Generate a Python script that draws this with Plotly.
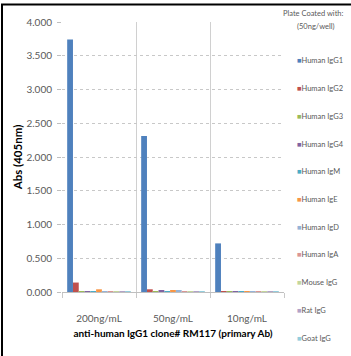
import plotly.graph_objects as go

categories = ["200ng/mL", "50ng/mL", "10ng/mL"]
series_names = ["Human IgG1", "Human IgG2", "Human IgG3", "Human IgG4", "Human IgM",
                "Human IgE", "Human IgD", "Human IgA", "Mouse IgG", "Rat IgG", "Goat IgG"]
series_values = [
    [3.74, 2.31, 0.72],
    [0.14, 0.04, 0.004],
    [0.004, 0.004, 0.003],
    [0.004, 0.015, 0.003],
    [0.004, 0.004, 0.003],
    [0.04, 0.03, 0.004],
    [0.004, 0.025, 0.003],
    [0.004, 0.004, 0.003],
    [0.004, 0.004, 0.003],
    [0.004, 0.004, 0.003],
    [0.004, 0.004, 0.003],
]
colors = ["#4F81BD", "#C0504D", "#9BBB59", "#8064A2", "#4BACC6", "#F79646",
          "#95B3D7", "#DA9694", "#C3D69B", "#B2A2C7", "#93CDDD"]
y_ticks = [0, 0.5, 1, 1.5, 2, 2.5, 3, 3.5, 4]

FONT = "Lato, sans-serif"
W, H = 351, 356
L, R, T, B = 62, 67, 22, 64
PW, PH = W - L - R, H - T - B

fig = go.Figure()
for name, vals, c in zip(series_names, series_values, colors):
    fig.add_trace(go.Bar(x=categories, y=vals, name=name, marker_color=c,
                         marker_line_width=0, showlegend=False))

def px2x(px):
    return (px - L) / PW

def py2y(py):
    return 1 - (py - T) / PH

legend_font = dict(family=FONT, size=7.5, color="#595959")
annotations = [
    dict(text="Plate Coated with:", xref="paper", yref="paper",
         x=px2x(313), y=py2y(14), xanchor="center", yanchor="middle", showarrow=False,
         font=legend_font),
    dict(text="(50ng/well)", xref="paper", yref="paper",
         x=px2x(316), y=py2y(26), xanchor="center", yanchor="middle", showarrow=False,
         font=legend_font),
]
for i, (name, c) in enumerate(zip(series_names, colors)):
    annotations.append(dict(
        text=f'<span style="color:{c}">■</span>{name}', xref="paper", yref="paper",
        x=px2x(295), y=py2y(61 + 27.7 * i), xanchor="left", yanchor="middle",
        showarrow=False, font=legend_font))

fig.update_layout(
    width=W, height=H,
    margin=dict(l=L, r=R, t=T, b=B),
    paper_bgcolor="white", plot_bgcolor="white",
    barmode="group", bargap=0.14, bargroupgap=0,
    font=dict(family=FONT, color="#595959"),
    annotations=annotations,
    shapes=[dict(type="rect", xref="paper", yref="paper",
                 x0=px2x(2), x1=px2x(W + 10), y0=py2y(H + 10), y1=py2y(4.5),
                 line=dict(color="black", width=2), layer="above")],
    xaxis=dict(
        tickson="boundaries", showgrid=True, gridcolor="#D0D0D0", gridwidth=1,
        ticks="outside", ticklen=5, tickcolor="#C8C8C8",
        showline=True, linecolor="#BFBFBF", linewidth=1,
        ticklabelstandoff=17,
        tickfont=dict(family=FONT, size=10, color="#595959"),
        title=dict(text="<b>anti-human IgG1 clone# RM117 (primary Ab)</b>",
                   font=dict(family=FONT, size=10, color="black"), standoff=6),
    ),
    yaxis=dict(
        range=[0, 4], tickvals=y_ticks, tickformat=".3f",
        showgrid=True, gridcolor="#C8C8C8", griddash="dot", gridwidth=1,
        ticks="outside", ticklen=4, tickcolor="#BFBFBF",
        showline=False, zeroline=False,
        ticklabelstandoff=3,
        tickfont=dict(family=FONT, size=10, color="#595959"),
        title=dict(text="<b>Abs (405nm)</b>",
                   font=dict(family=FONT, size=11.5, color="black"), standoff=1),
    ),
)
fig.write_html("out.html")
